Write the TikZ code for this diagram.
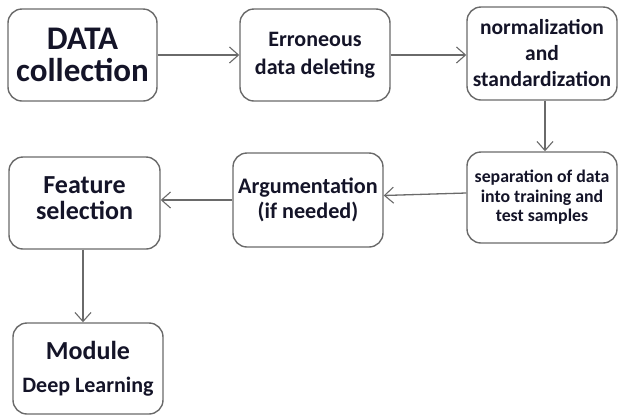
\documentclass[tikz,border=0pt]{standalone}
\usepackage{fontspec}
\setmainfont{Carlito}
\usetikzlibrary{arrows.meta}
\definecolor{edgegray}{HTML}{6A6A6A}
\definecolor{txt}{HTML}{141428}
\tikzset{
  box/.style={draw=edgegray, line width=1.4pt, rounded corners=14pt, fill=white,
              align=center, text=txt, font=\bfseries, inner sep=0pt},
  conn/.style={draw=edgegray, line width=1.3pt,
               -{Straight Barb[length=9pt,width=16pt,line width=1.1pt]}}
}
\begin{document}
\begin{tikzpicture}[x=1pt,y=-1pt]
\useasboundingbox (0,0) rectangle (619,416);
\node[box, minimum width=149pt, minimum height=92pt, font=\bfseries\fontsize{33}{32}\selectfont] (b1) at (82.5,55) {DATA\\collection};
\node[box, minimum width=150pt, minimum height=92pt, font=\bfseries\fontsize{22}{28}\selectfont] (b2) at (315,55) {Erroneous\\data deleting};
\node[box, minimum width=150pt, minimum height=93pt, font=\bfseries\fontsize{21.5}{26}\selectfont] (b3) at (542,53.5) {normalization\\and\\standardization};
\node[box, minimum width=150pt, minimum height=91pt, font=\bfseries\fontsize{17.8}{19.5}\selectfont] (b4) at (542,197.5) {separation of data\\into training and\\test samples};
\node[box, minimum width=150pt, minimum height=94pt, font=\bfseries\fontsize{22.2}{25}\selectfont] (b5) at (308,200) {Argumentation\\(if needed)};
\node[box, minimum width=151pt, minimum height=92pt, font=\bfseries\fontsize{26}{26}\selectfont] (b6) at (84.5,203) {Feature\\selection\\[-16pt]\mbox{}};
\node[box, minimum width=150pt, minimum height=91pt, font=\bfseries\fontsize{26}{33}\selectfont] (b7) at (88,368.5) {Module\\{\fontsize{22}{22}\selectfont Deep Learning}};
\draw[conn] (b1.east) -- (b2.west);
\draw[conn] (b2.east) -- (b2.east -| b3.west);
\draw[conn] ([xshift=3pt]b3.south) -- ([xshift=3pt]b4.north);
\draw[conn] ([yshift=4.5pt]b4.west) -- ([yshift=2pt]b4.west -| b5.east);
\draw[conn] (b5.west) -- (b5.west -| b6.east);
\draw[conn] ([xshift=-1.5pt]b6.south) -- ([xshift=-1.5pt]b6.south |- b7.north);
\end{tikzpicture}
\end{document}
